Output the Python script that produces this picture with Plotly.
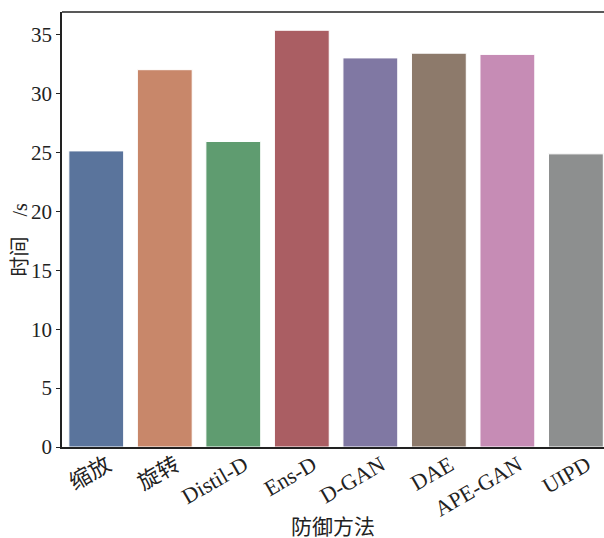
import plotly.graph_objects as go

categories = ["缩放", "旋转", "Distil-D", "Ens-D", "D-GAN", "DAE", "APE-GAN", "UIPD"]
times = [25.15, 32.05, 25.95, 35.4, 33.05, 33.45, 33.35, 24.9]
colors = ["#5A749C", "#C8876A", "#5F9C70", "#AA5E63", "#8078A3", "#8D7A6B", "#C68CB5", "#8D8F8F"]
y_ticks = [0, 5, 10, 15, 20, 25, 30, 35]

FONT = "Liberation Serif, Noto Sans CJK SC, serif"

fig = go.Figure(
    go.Bar(
        x=categories,
        y=times,
        marker=dict(color=colors, line=dict(color="white", width=1)),
        width=0.8,
        hoverinfo="skip",
    )
)

fig.update_layout(
    width=604,
    height=538,
    margin=dict(l=62, r=0, t=12, b=91, autoexpand=False),
    plot_bgcolor="white",
    paper_bgcolor="white",
    font=dict(family=FONT, size=21, color="#222"),
    showlegend=False,
    annotations=[
        dict(text="防御方法", xref="paper", yref="paper", x=0.5, y=0,
             xanchor="center", yanchor="middle", yshift=-80, showarrow=False,
             font=dict(size=21)),
        dict(text="时间\u2003/s", xref="paper", yref="paper", x=0, y=0.5,
             xanchor="center", yanchor="middle", xshift=-43, yshift=-10,
             textangle=-90, showarrow=False, font=dict(size=20)),
    ],
    shapes=[
        dict(type="line", xref="paper", yref="paper", x0=0, x1=1, y0=1, y1=1,
             line=dict(color="#222", width=1.5)),
    ],
)

fig.update_xaxes(
    range=[-0.5, 7.41],
    automargin=False,
    showline=True,
    linecolor="#222",
    linewidth=1.5,
    mirror=False,
    ticks="",
    tickangle=-30,
    tickfont=dict(size=22),
    ticklabelshift=11,
    ticklabelstandoff=-5,
    showgrid=False,
)

fig.update_yaxes(
    range=[0, 36.95],
    automargin=False,
    tickvals=y_ticks,
    showline=True,
    linecolor="#222",
    linewidth=1.5,
    mirror=False,
    ticks="outside",
    ticklen=4,
    tickcolor="#222",
    tickfont=dict(size=21),
    showgrid=False,
    zeroline=False,
)

fig.write_html(
    "out.html",
    config={"displayModeBar": False},
    post_script="document.body.style.margin='0';document.body.style.padding='0';",
)
